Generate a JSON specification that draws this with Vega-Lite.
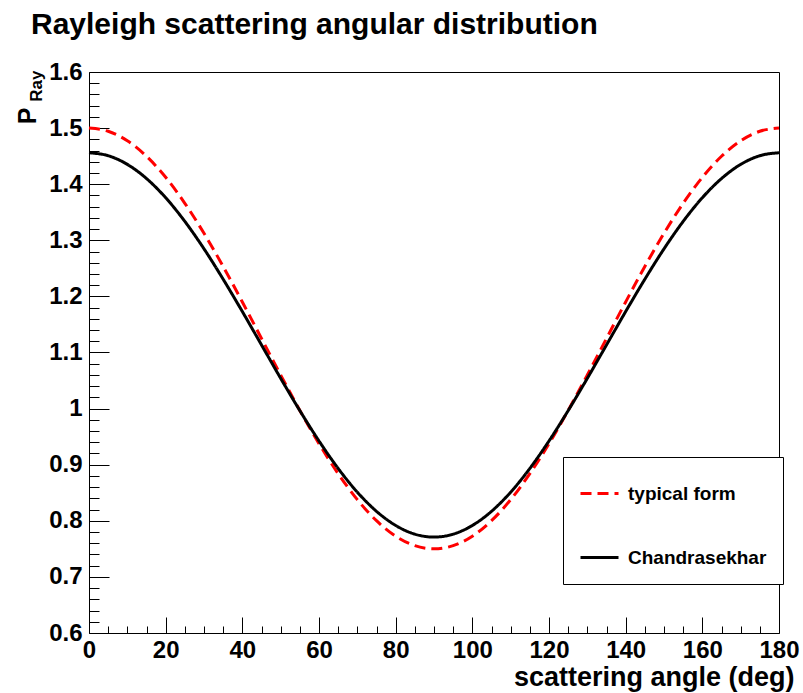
{
  "$schema": "https://vega.github.io/schema/vega-lite/v6.json",
  "width": 690,
  "height": 561,
  "autosize": {"type": "none"},
  "padding": {"left": 89, "top": 72, "right": 24, "bottom": 60},
  "background": "white",
  "title": {
    "text": "Rayleigh scattering angular distribution",
    "anchor": "start",
    "frame": "group",
    "dx": -58,
    "font": "Liberation Sans",
    "fontSize": 30,
    "fontWeight": "bold",
    "color": "black",
    "baseline": "alphabetic",
    "offset": -4
  },
  "config": {
    "view": {"stroke": "black", "strokeWidth": 1},
    "axis": {
      "domain": false,
      "grid": false,
      "tickColor": "black",
      "tickWidth": 1,
      "labelFont": "Liberation Sans",
      "labelFontWeight": "bold",
      "labelFontSize": 24,
      "labelColor": "black",
      "titleFont": "Liberation Sans",
      "titleFontWeight": "bold",
      "titleColor": "black"
    },
    "legend": {
      "orient": "none",
      "legendX": 474,
      "legendY": 385,
      "padding": 16,
      "fillColor": "white",
      "strokeColor": "black",
      "symbolType": "stroke",
      "symbolSize": 1444,
      "symbolStrokeWidth": 3,
      "labelFont": "Liberation Sans",
      "labelFontWeight": "bold",
      "labelFontSize": 19,
      "labelColor": "black",
      "labelOffset": 8,
      "rowPadding": 33
    }
  },
  "data": {
    "values": [
      {"angle": 0, "series": "typical form", "value": 1.5},
      {"angle": 5, "series": "typical form", "value": 1.4943},
      {"angle": 10, "series": "typical form", "value": 1.4774},
      {"angle": 15, "series": "typical form", "value": 1.4498},
      {"angle": 20, "series": "typical form", "value": 1.4123},
      {"angle": 25, "series": "typical form", "value": 1.366},
      {"angle": 30, "series": "typical form", "value": 1.3125},
      {"angle": 35, "series": "typical form", "value": 1.2533},
      {"angle": 40, "series": "typical form", "value": 1.1901},
      {"angle": 45, "series": "typical form", "value": 1.125},
      {"angle": 50, "series": "typical form", "value": 1.0599},
      {"angle": 55, "series": "typical form", "value": 0.9967},
      {"angle": 60, "series": "typical form", "value": 0.9375},
      {"angle": 65, "series": "typical form", "value": 0.884},
      {"angle": 70, "series": "typical form", "value": 0.8377},
      {"angle": 75, "series": "typical form", "value": 0.8002},
      {"angle": 80, "series": "typical form", "value": 0.7726},
      {"angle": 85, "series": "typical form", "value": 0.7557},
      {"angle": 90, "series": "typical form", "value": 0.75},
      {"angle": 95, "series": "typical form", "value": 0.7557},
      {"angle": 100, "series": "typical form", "value": 0.7726},
      {"angle": 105, "series": "typical form", "value": 0.8002},
      {"angle": 110, "series": "typical form", "value": 0.8377},
      {"angle": 115, "series": "typical form", "value": 0.884},
      {"angle": 120, "series": "typical form", "value": 0.9375},
      {"angle": 125, "series": "typical form", "value": 0.9967},
      {"angle": 130, "series": "typical form", "value": 1.0599},
      {"angle": 135, "series": "typical form", "value": 1.125},
      {"angle": 140, "series": "typical form", "value": 1.1901},
      {"angle": 145, "series": "typical form", "value": 1.2533},
      {"angle": 150, "series": "typical form", "value": 1.3125},
      {"angle": 155, "series": "typical form", "value": 1.366},
      {"angle": 160, "series": "typical form", "value": 1.4123},
      {"angle": 165, "series": "typical form", "value": 1.4498},
      {"angle": 170, "series": "typical form", "value": 1.4774},
      {"angle": 175, "series": "typical form", "value": 1.4943},
      {"angle": 180, "series": "typical form", "value": 1.5},
      {"angle": 0, "series": "Chandrasekhar", "value": 1.456},
      {"angle": 5, "series": "Chandrasekhar", "value": 1.4508},
      {"angle": 10, "series": "Chandrasekhar", "value": 1.4353},
      {"angle": 15, "series": "Chandrasekhar", "value": 1.4101},
      {"angle": 20, "series": "Chandrasekhar", "value": 1.3759},
      {"angle": 25, "series": "Chandrasekhar", "value": 1.3337},
      {"angle": 30, "series": "Chandrasekhar", "value": 1.2848},
      {"angle": 35, "series": "Chandrasekhar", "value": 1.2306},
      {"angle": 40, "series": "Chandrasekhar", "value": 1.173},
      {"angle": 45, "series": "Chandrasekhar", "value": 1.1135},
      {"angle": 50, "series": "Chandrasekhar", "value": 1.054},
      {"angle": 55, "series": "Chandrasekhar", "value": 0.9964},
      {"angle": 60, "series": "Chandrasekhar", "value": 0.9423},
      {"angle": 65, "series": "Chandrasekhar", "value": 0.8933},
      {"angle": 70, "series": "Chandrasekhar", "value": 0.8511},
      {"angle": 75, "series": "Chandrasekhar", "value": 0.8169},
      {"angle": 80, "series": "Chandrasekhar", "value": 0.7917},
      {"angle": 85, "series": "Chandrasekhar", "value": 0.7762},
      {"angle": 90, "series": "Chandrasekhar", "value": 0.771},
      {"angle": 95, "series": "Chandrasekhar", "value": 0.7762},
      {"angle": 100, "series": "Chandrasekhar", "value": 0.7917},
      {"angle": 105, "series": "Chandrasekhar", "value": 0.8169},
      {"angle": 110, "series": "Chandrasekhar", "value": 0.8511},
      {"angle": 115, "series": "Chandrasekhar", "value": 0.8933},
      {"angle": 120, "series": "Chandrasekhar", "value": 0.9423},
      {"angle": 125, "series": "Chandrasekhar", "value": 0.9964},
      {"angle": 130, "series": "Chandrasekhar", "value": 1.054},
      {"angle": 135, "series": "Chandrasekhar", "value": 1.1135},
      {"angle": 140, "series": "Chandrasekhar", "value": 1.173},
      {"angle": 145, "series": "Chandrasekhar", "value": 1.2306},
      {"angle": 150, "series": "Chandrasekhar", "value": 1.2848},
      {"angle": 155, "series": "Chandrasekhar", "value": 1.3337},
      {"angle": 160, "series": "Chandrasekhar", "value": 1.3759},
      {"angle": 165, "series": "Chandrasekhar", "value": 1.4101},
      {"angle": 170, "series": "Chandrasekhar", "value": 1.4353},
      {"angle": 175, "series": "Chandrasekhar", "value": 1.4508},
      {"angle": 180, "series": "Chandrasekhar", "value": 1.456}
    ]
  },
  "layer": [
    {
      "transform": [{"filter": "datum.series === 'typical form'"}],
      "mark": {"type": "line", "strokeWidth": 3, "interpolate": "monotone"},
      "encoding": {
        "x": {
          "field": "angle",
          "type": "quantitative",
          "scale": {"domain": [0, 180], "nice": false, "zero": false},
          "axis": {
            "orient": "bottom",
            "values": [0, 20, 40, 60, 80, 100, 120, 140, 160, 180],
            "format": "d",
            "tickSize": -16,
            "labelPadding": 21,
            "labelFlush": false,
            "labelOverlap": false,
            "title": "scattering angle (deg)",
            "titleFontSize": 27,
            "titleAnchor": "end",
            "titleAlign": "right",
            "titleBaseline": "alphabetic",
            "titleX": 705,
            "titleY": 52
          }
        },
        "y": {
          "field": "value",
          "type": "quantitative",
          "scale": {"domain": [0.6, 1.6], "nice": false, "zero": false},
          "axis": {
            "orient": "left",
            "values": [0.6, 0.7, 0.8, 0.9, 1.0, 1.1, 1.2, 1.3, 1.4, 1.5, 1.6],
            "format": "~g",
            "tickSize": -20,
            "labelPadding": 27,
            "labelFlush": false,
            "labelOverlap": false,
            "title": "P",
            "titleFontSize": 25,
            "titleAngle": -90,
            "titleAlign": "right",
            "titleBaseline": "alphabetic",
            "titleX": -54,
            "titleY": 35
          }
        },
        "color": {
          "field": "series",
          "type": "nominal",
          "scale": {"domain": ["typical form", "Chandrasekhar"], "range": ["#ff0000", "#000000"]},
          "legend": {"title": null}
        },
        "strokeDash": {
          "field": "series",
          "type": "nominal",
          "scale": {"domain": ["typical form", "Chandrasekhar"], "range": [[11, 6], [1, 0]]},
          "legend": {"title": null}
        }
      }
    },
    {
      "transform": [{"filter": "datum.series === 'Chandrasekhar'"}],
      "mark": {"type": "line", "strokeWidth": 3, "interpolate": "monotone"},
      "encoding": {
        "x": {
          "field": "angle",
          "type": "quantitative",
          "axis": {
            "orient": "bottom",
            "values": [5, 10, 15, 25, 30, 35, 45, 50, 55, 65, 70, 75, 85, 90, 95, 105, 110, 115, 125, 130, 135, 145, 150, 155, 165, 170, 175],
            "tickSize": -7,
            "labels": false,
            "title": null
          }
        },
        "y": {
          "field": "value",
          "type": "quantitative",
          "axis": {
            "orient": "left",
            "values": [0.62, 0.64, 0.66, 0.68, 0.72, 0.74, 0.76, 0.78, 0.82, 0.84, 0.86, 0.88, 0.92, 0.94, 0.96, 0.98, 1.02, 1.04, 1.06, 1.08, 1.12, 1.14, 1.16, 1.18, 1.22, 1.24, 1.26, 1.28, 1.32, 1.34, 1.36, 1.38, 1.42, 1.44, 1.46, 1.48, 1.52, 1.54, 1.56, 1.58],
            "tickSize": -10,
            "labels": false,
            "title": "Ray",
            "titleFontSize": 17,
            "titleAngle": -90,
            "titleAlign": "right",
            "titleBaseline": "alphabetic",
            "titleX": -48,
            "titleY": -2
          }
        },
        "color": {
          "field": "series",
          "type": "nominal",
          "legend": {"title": null}
        },
        "strokeDash": {
          "field": "series",
          "type": "nominal",
          "legend": {"title": null}
        }
      }
    }
  ],
  "resolve": {"axis": {"x": "independent", "y": "independent"}}
}
